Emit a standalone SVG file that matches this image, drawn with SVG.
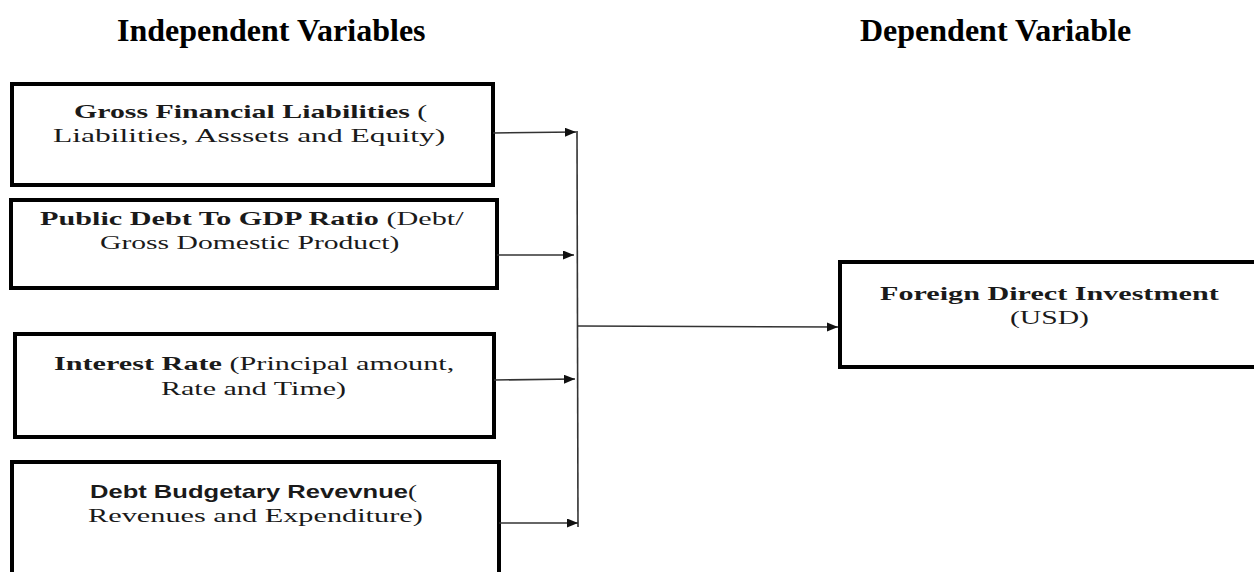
<svg xmlns="http://www.w3.org/2000/svg" width="1254" height="572" viewBox="0 0 1254 572">
<style>
.title{font-family:"Liberation Serif","Times New Roman",serif;font-size:32px;font-weight:bold;fill:#000}
.box{fill:#fff;stroke:#000;stroke-width:4}
.t{font-family:"Liberation Serif","Times New Roman",serif;font-size:19px;fill:#1a1a1a}
.b{font-weight:bold}
.sans{font-family:"Liberation Sans",Arial,sans-serif;font-weight:bold;font-size:18px}
.conn{fill:none;stroke:#333;stroke-width:1.6}
</style>
<defs>
<marker id="ah" markerUnits="userSpaceOnUse" markerWidth="12" markerHeight="10" refX="11" refY="4.5" orient="auto">
<path d="M0,0 L11,4.5 L0,9 z" fill="#111"/>
</marker>
</defs>
<rect width="1254" height="572" fill="#fff"/>
<text class="title" x="117" y="41">Independent Variables</text>
<text class="title" x="860" y="41">Dependent Variable</text>

<g id="n1">
<rect class="box" x="12" y="84" width="481" height="101"/>
<text class="t" transform="translate(74,118) scale(1.571,1)"><tspan class="b">Gross Financial Liabilities</tspan> (</text>
<text class="t" transform="translate(53,142) scale(1.66,1)">Liabilities, Asssets and Equity)</text>
</g>
<g id="n2">
<rect class="box" x="11" y="200" width="486" height="88"/>
<text class="t" transform="translate(40,225) scale(1.59,1)"><tspan class="b">Public Debt To GDP Ratio</tspan> (Debt/</text>
<text class="t" transform="translate(100,249) scale(1.56,1)">Gross Domestic Product)</text>
</g>
<g id="n3">
<rect class="box" x="15" y="334" width="479" height="103"/>
<text class="t" transform="translate(54,370) scale(1.59,1)"><tspan class="b">Interest Rate</tspan> (Principal amount,</text>
<text class="t" transform="translate(161,395) scale(1.58,1)">Rate and Time)</text>
</g>
<g id="n4">
<rect class="box" x="12" y="462" width="487" height="130"/>
<text class="t" transform="translate(90,498) scale(1.42,1)"><tspan class="sans">Debt Budgetary Revevnue</tspan>(</text>
<text class="t" transform="translate(88,522) scale(1.595,1)">Revenues and Expenditure)</text>
</g>
<g id="n5">
<rect class="box" x="840" y="262" width="430" height="105"/>
<text class="t" transform="translate(880,300) scale(1.587,1)"><tspan class="b">Foreign Direct Investment</tspan></text>
<text class="t" transform="translate(1010,324) scale(1.56,1)">(USD)</text>
</g>

<g id="connectors">
<line class="conn" x1="577" y1="131" x2="578" y2="527"/>
<line class="conn" x1="493" y1="133" x2="576" y2="132" marker-end="url(#ah)"/>
<line class="conn" x1="497" y1="255" x2="574" y2="255" marker-end="url(#ah)"/>
<line class="conn" x1="494" y1="380" x2="575" y2="379" marker-end="url(#ah)"/>
<line class="conn" x1="499" y1="523" x2="578" y2="523" marker-end="url(#ah)"/>
<line class="conn" x1="578" y1="326" x2="838" y2="327" marker-end="url(#ah)"/>
</g>
</svg>
